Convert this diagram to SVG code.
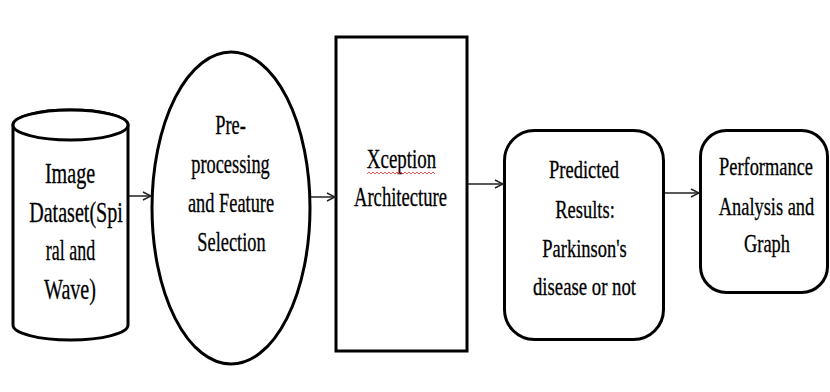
<svg xmlns="http://www.w3.org/2000/svg" width="830" height="392" viewBox="0 0 830 392">
  <defs>
    <marker id="arrow" viewBox="0 0 10 10" refX="9" refY="5" markerWidth="10" markerHeight="10" markerUnits="userSpaceOnUse" orient="auto">
      <path d="M1,1 L9,5 L1,9" fill="none" stroke="#222" stroke-width="1.4"/>
    </marker>
  </defs>
  <style>
    .shape { fill: #fff; stroke: #000; stroke-width: 3; }
    .label { font-family: "Liberation Serif", "Times New Roman", serif; fill: #000; stroke: #000; stroke-width: 0.3; text-anchor: middle; }
    .conn { fill: none; stroke: #222; stroke-width: 1.5; marker-end: url(#arrow); }
  </style>
  <rect width="830" height="392" fill="#fff"/>

  <!-- Image dataset (cylinder) -->
  <g id="dataset">
    <path class="shape" d="M13,125 L13,325 A57.5,15 0 0 0 128,325 L128,125 A57.5,15 0 0 0 13,125 Z"/>
    <ellipse class="shape" cx="70.5" cy="125" rx="57.5" ry="15"/>
    <g font-size="30">
      <text class="label" transform="translate(70,183) scale(0.67,1)">Image</text>
      <text class="label" transform="translate(76,222) scale(0.67,1)">Dataset(Spi</text>
      <text class="label" transform="translate(70.5,260) scale(0.6,1)">ral and</text>
      <text class="label" transform="translate(70,299) scale(0.67,1)">Wave)</text>
    </g>
  </g>

  <!-- Pre-processing (ellipse) -->
  <g id="preprocessing">
    <ellipse class="shape" cx="231" cy="208" rx="79" ry="156"/>
    <g font-size="27">
      <text class="label" transform="translate(230.5,134) scale(0.68,1)">Pre-</text>
      <text class="label" transform="translate(230.5,173) scale(0.68,1)">processing</text>
      <text class="label" transform="translate(231,212) scale(0.68,1)">and Feature</text>
      <text class="label" transform="translate(231.5,251) scale(0.68,1)">Selection</text>
    </g>
  </g>

  <!-- Xception architecture (rectangle) -->
  <g id="xception">
    <rect class="shape" x="336" y="37" width="131" height="314" stroke-width="3.5"/>
    <g font-size="27">
      <text class="label" transform="translate(401.5,168) scale(0.7,1)">Xception</text>
      <text class="label" transform="translate(400.5,206) scale(0.69,1)">Architecture</text>
    </g>
    <path d="M367,174 l2,-2 l2,2 l2,-2 l2,2 l2,-2 l2,2 l2,-2 l2,2 l2,-2 l2,2 l2,-2 l2,2 l2,-2 l2,2 l2,-2 l2,2 l2,-2 l2,2 l2,-2 l2,2 l2,-2 l2,2 l2,-2 l2,2 l2,-2 l2,2 l2,-2 l2,2 l2,-2 l2,2 l2,-2 l2,2 l2,-2 l2,2" fill="none" stroke="#e03030" stroke-width="0.8"/>
  </g>

  <!-- Predicted results (rounded rectangle) -->
  <g id="results">
    <rect class="shape" x="504.5" y="130.5" width="159" height="209" rx="30" ry="30"/>
    <g font-size="25">
      <text class="label" transform="translate(584,178) scale(0.74,1)">Predicted</text>
      <text class="label" transform="translate(585,218) scale(0.74,1)">Results:</text>
      <text class="label" transform="translate(584.5,257) scale(0.74,1)">Parkinson's</text>
      <text class="label" transform="translate(584.5,295) scale(0.75,1)">disease or not</text>
    </g>
  </g>

  <!-- Performance analysis (rounded rectangle) -->
  <g id="performance">
    <rect class="shape" x="700.5" y="130.5" width="127" height="162" rx="26" ry="26"/>
    <g font-size="25">
      <text class="label" transform="translate(766,175) scale(0.736,1)">Performance</text>
      <text class="label" transform="translate(766.5,215) scale(0.736,1)">Analysis and</text>
      <text class="label" transform="translate(767,252) scale(0.736,1)">Graph</text>
    </g>
  </g>

  <!-- Connectors -->
  <g id="connectors">
    <line class="conn" x1="129" y1="196" x2="151" y2="196"/>
    <line class="conn" x1="311" y1="197" x2="335" y2="197"/>
    <line class="conn" x1="468" y1="184" x2="503" y2="184"/>
    <line class="conn" x1="665" y1="193" x2="699" y2="193"/>
  </g>
</svg>
